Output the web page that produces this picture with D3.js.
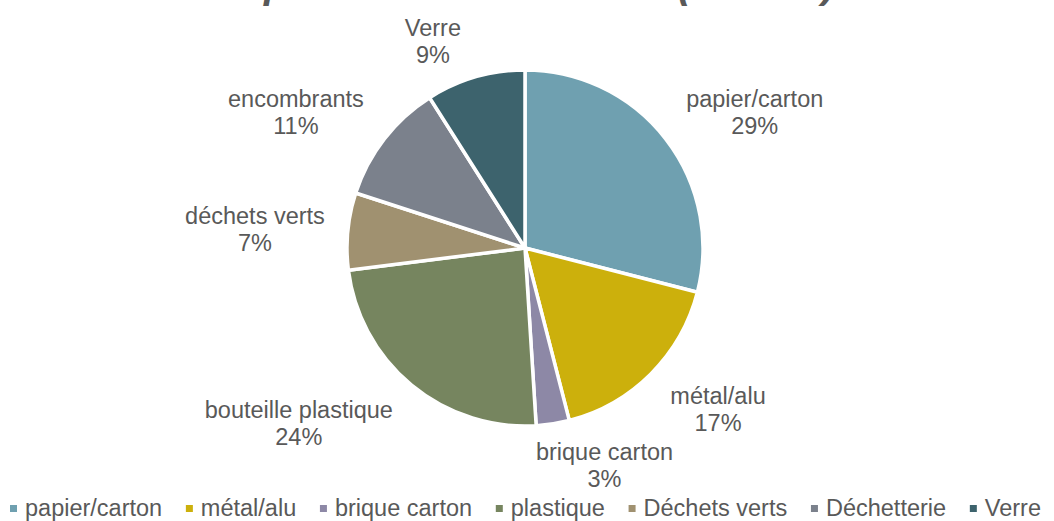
<!DOCTYPE html>
<html><head><meta charset="utf-8">
<script src="https://cdn.jsdelivr.net/npm/d3@7"></script>
<style>html,body{margin:0;padding:0;background:#fff;overflow:hidden}</style>
</head><body><svg id="chart" width="1054" height="521"></svg>
<script>
// ---- data ----
const titleText = "Répartition des déchets (tonnes)";
const categories = ["papier/carton", "métal/alu", "brique carton", "plastique", "Déchets verts", "Déchetterie", "Verre"];
const labelNames = ["papier/carton", "métal/alu", "brique carton", "bouteille plastique", "déchets verts", "encombrants", "Verre"];
const values = [29, 17, 3, 24, 7, 11, 9];
const colors = ["#6FA0B0", "#CCB00C", "#8D88A6", "#76855F", "#A09170", "#7B818C", "#3D636D"];

// ---- layout ----
const W = 1054, H = 521;
const cx = 525, cy = 248, R = 178;
const font = "'Liberation Sans', Arial, sans-serif";
const textColor = "#595959";

const svg = d3.select("#chart");
const total = d3.sum(values);
const pct = d3.format(".0%");
const rows = categories.map((c, i) => ({cat: c, label: labelNames[i], value: values[i], color: colors[i]}));

// title (cut by the top edge as in the reference)
svg.append("text")
  .attr("x", 524).attr("y", -2)
  .attr("text-anchor", "middle")
  .attr("font-family", font).attr("font-size", 40)
  .attr("font-weight", "bold").attr("font-style", "italic")
  .attr("fill", textColor)
  .text(titleText);

const pie = d3.pie().sort(null).value(d => d.value);
const arcs = pie(rows);
const arc = d3.arc().innerRadius(0).outerRadius(R);

const g = svg.append("g").attr("transform", `translate(${cx},${cy})`);
g.selectAll("path.slice").data(arcs).join("path")
  .attr("class", "slice")
  .attr("d", arc)
  .attr("fill", d => d.data.color)
  .attr("stroke", "#fff").attr("stroke-width", 3.5)
  .attr("stroke-linejoin", "round");

// data labels: outside end
const labelR = 190, kx = 4, ky = 1.3, xgap = 11, boxH = 54, lineH = 27;
const clamp = v => Math.max(-1, Math.min(1, v));
const lg = g.append("g");
arcs.forEach(d => {
  const a = (d.startAngle + d.endAngle) / 2;
  const s = Math.sin(a), c = Math.cos(a);
  const px = labelR * s, py = -labelR * c;
  const t = lg.append("text")
    .attr("font-family", font).attr("font-size", 23.5)
    .attr("fill", textColor).attr("text-anchor", "middle");
  const l1 = t.append("tspan").text(d.data.label);
  const l2 = t.append("tspan").text(pct(d.data.value / total));
  const w = Math.max(l1.node().getComputedTextLength(), l2.node().getComputedTextLength());
  const x = px + clamp(kx * s) * (w / 2 + xgap);
  const yc = py + clamp(-ky * c) * (boxH / 2);
  l1.attr("x", x).attr("y", yc - 3);
  l2.attr("x", x).attr("y", yc - 3 + lineH);
});

// legend: spread from x=10 to x=1041
const legend = svg.append("g");
const mk = 7, mgap = 8, legL = 10, legR = 1041;
const legItems = rows.map(r => {
  const it = legend.append("g");
  const rect = it.append("rect").attr("y", 505).attr("width", mk).attr("height", mk).attr("fill", r.color);
  const tx = it.append("text").attr("y", 516)
    .attr("font-family", font).attr("font-size", 23.5).attr("fill", textColor).text(r.cat);
  return {rect, tx, w: tx.node().getComputedTextLength()};
});
const used = d3.sum(legItems, d => mk + mgap + d.w);
const igap = (legR - legL - used) / (legItems.length - 1);
let xpos = legL;
legItems.forEach(d => {
  d.rect.attr("x", xpos);
  d.tx.attr("x", xpos + mk + mgap);
  xpos += mk + mgap + d.w + igap;
});
</script>
</body></html>
